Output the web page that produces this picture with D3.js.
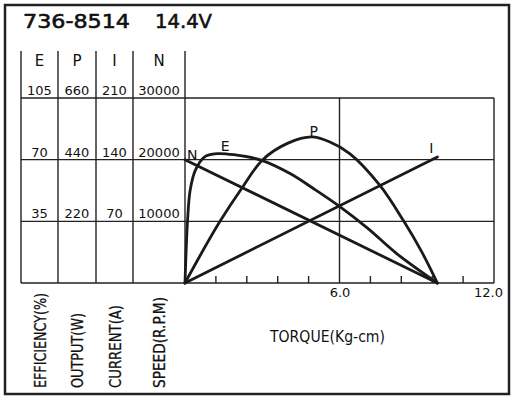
<!DOCTYPE html>
<html>
<head>
<meta charset="utf-8">
<script src="https://cdn.jsdelivr.net/npm/d3@7"></script>
<style>
  body { margin: 0; background: #fff; }
  text { font-family: "DejaVu Sans", sans-serif; fill: #111; }
</style>
</head>
<body>
<div id="chart-div"></div>
<script>
// chart values
const titleParts = ["736-8514", "14.4V"];
const seriesKeys = ["E", "P", "I", "N"];
const effTicks = [35, 70, 105];
const outputTicks = [220, 440, 660];
const currentTicks = [70, 140, 210];
const speedTicks = [10000, 20000, 30000];
const axisTitles = ["EFFICIENCY(%)", "OUTPUT(W)", "CURRENT(A)", "SPEED(R.P.M)"];
const torqueTicks = [1.2, 2.4, 3.6, 4.8, 7.2, 8.4, 9.6, 10.8];
const torqueLabels = [6.0, 12.0];
const torqueTitle = "TORQUE(Kg-cm)";

// [torque, value]
const speedData = [[0, 20000], [9.8, 0]];
const currentData = [[0, 0], [9.8, 143]];
const outputData = [[0, 0], [0.6, 100], [1.36, 220], [2.2, 337], [3.02, 440], [4.0, 499], [4.92, 521],
                    [5.63, 503], [6.41, 461], [7.57, 348], [8.5, 220], [9.2, 110], [9.8, 0]];
const efficiencyData = [[0, 0], [0.04, 16.8], [0.1, 35.6], [0.2, 52.6], [0.4, 63.9], [0.75, 71.5],
                        [1.25, 73.4], [1.9, 72.8], [2.98, 69.6], [4.08, 62.1], [5.0, 53.5],
                        [6.0, 43.5], [7.1, 31], [8.22, 16.7], [9.8, 0]];

const width = 516;
const height = 400;

const x = d3.scaleLinear().domain([0, 12]).range([185, 494]);
const ySpeed = d3.scaleLinear().domain([0, 30000]).range([283, 98]);
const yEff = d3.scaleLinear().domain([0, 105]).range([283, 98]);
const yOut = d3.scaleLinear().domain([0, 660]).range([283, 98]);
const yCur = d3.scaleLinear().domain([0, 210]).range([283, 98]);

// table columns on the left (E, P, I, N)
const colEdges = [21, 58, 96, 133, 185];
const colTicks = [effTicks, outputTicks, currentTicks, speedTicks];
const colScales = [yEff, yOut, yCur, ySpeed];

const svg = d3.select("#chart-div").append("svg")
  .attr("width", width).attr("height", height);

// outer frame
svg.append("rect").attr("x", 5).attr("y", 5).attr("width", 504).attr("height", 389)
  .attr("fill", "none").attr("stroke", "#222").attr("stroke-width", 2.5);

// title
svg.append("text").attr("x", 23).attr("y", 28).attr("font-size", 20)
  .attr("stroke", "#111").attr("stroke-width", 0.6)
  .attr("textLength", 107).attr("lengthAdjust", "spacingAndGlyphs").text(titleParts[0]);
svg.append("text").attr("x", 155).attr("y", 28).attr("font-size", 20)
  .attr("stroke", "#111").attr("stroke-width", 0.6)
  .attr("textLength", 57).attr("lengthAdjust", "spacingAndGlyphs").text(titleParts[1]);

const grid = svg.append("g").attr("stroke", "#222").attr("stroke-width", 1.4);

// horizontal grid lines through the table and plot
grid.selectAll("line.h").data([0].concat(speedTicks)).enter().append("line")
  .attr("x1", colEdges[0]).attr("x2", x(12))
  .attr("y1", d => ySpeed(d)).attr("y2", d => ySpeed(d));

// table column lines
grid.selectAll("line.c").data(colEdges).enter().append("line")
  .attr("x1", d => d).attr("x2", d => d)
  .attr("y1", 51).attr("y2", ySpeed(0));

// plot vertical lines at 6.0 and 12.0
grid.selectAll("line.v").data(torqueLabels).enter().append("line")
  .attr("x1", d => x(d)).attr("x2", d => x(d))
  .attr("y1", ySpeed(30000)).attr("y2", ySpeed(0));

// short upward ticks on the torque axis
grid.selectAll("line.t").data(torqueTicks).enter().append("line")
  .attr("x1", d => x(d)).attr("x2", d => x(d))
  .attr("y1", ySpeed(0) - 7).attr("y2", ySpeed(0));

// torque labels at 6.0 and 12.0
const xAxis = d3.axisBottom(x).tickValues(torqueLabels).tickSize(0).tickPadding(5)
  .tickFormat(d3.format(".1f"));
const ax = svg.append("g").attr("transform", `translate(0,${ySpeed(0)})`).call(xAxis);
ax.select(".domain").remove();
ax.selectAll(".tick line").remove();
ax.selectAll(".tick text").attr("font-family", "DejaVu Sans").attr("font-size", 13).attr("fill", "#111")
  .attr("dx", d => d === 12 ? -6 : 0);

// column headers and values
seriesKeys.forEach((k, i) => {
  const cx = (colEdges[i] + colEdges[i + 1]) / 2;
  svg.append("text").attr("x", cx).attr("y", 66).attr("text-anchor", "middle")
    .attr("font-size", 15).text(k);
  svg.selectAll(null).data(colTicks[i]).enter().append("text")
    .attr("x", cx).attr("y", d => colScales[i](d) - 3)
    .attr("text-anchor", "middle").attr("font-size", 13)
    .text(d => d);
});

// rotated unit titles under the table
const titleLens = [95, 75, 83, 91];
axisTitles.forEach((t, i) => {
  const cx = (colEdges[i] + colEdges[i + 1]) / 2 + 6;
  svg.append("text").attr("transform", `translate(${cx},388) rotate(-90)`)
    .attr("font-size", 16).attr("stroke", "#111").attr("stroke-width", 0.3)
    .attr("textLength", titleLens[i]).attr("lengthAdjust", "spacingAndGlyphs")
    .text(t);
});

svg.append("text").attr("x", 270).attr("y", 342).attr("font-size", 15)
  .attr("textLength", 115).attr("lengthAdjust", "spacingAndGlyphs").text(torqueTitle);

// curves
const curves = [
  { key: "N", data: speedData, y: ySpeed },
  { key: "I", data: currentData, y: yCur },
  { key: "P", data: outputData, y: yOut },
  { key: "E", data: efficiencyData, y: yEff }
];
curves.forEach(c => {
  const line = d3.line().x(d => x(d[0])).y(d => c.y(d[1])).curve(d3.curveCatmullRom.alpha(0.5));
  svg.append("path").datum(c.data).attr("d", line)
    .attr("fill", "none").attr("stroke", "#1a1a1a").attr("stroke-width", 2.8)
    .attr("stroke-linejoin", "round").attr("stroke-linecap", "round");
});

// curve labels
const peak = (data) => data.reduce((a, b) => (b[1] > a[1] ? b : a));
const nStart = speedData[0], iEnd = currentData[currentData.length - 1];
const pPeak = peak(outputData), ePeak = peak(efficiencyData);
svg.append("text").attr("x", x(nStart[0]) + 2).attr("y", ySpeed(nStart[1])).attr("font-size", 14).text("N");
svg.append("text").attr("x", x(ePeak[0]) + 8).attr("y", yEff(ePeak[1]) - 3)
  .attr("text-anchor", "middle").attr("font-size", 14).text("E");
svg.append("text").attr("x", x(pPeak[0]) + 2).attr("y", yOut(pPeak[1]) - 1)
  .attr("text-anchor", "middle").attr("font-size", 14).text("P");
svg.append("text").attr("x", x(iEnd[0]) - 6).attr("y", yCur(iEnd[1]) - 4)
  .attr("text-anchor", "middle").attr("font-size", 14).text("I");
</script>
</body>
</html>
